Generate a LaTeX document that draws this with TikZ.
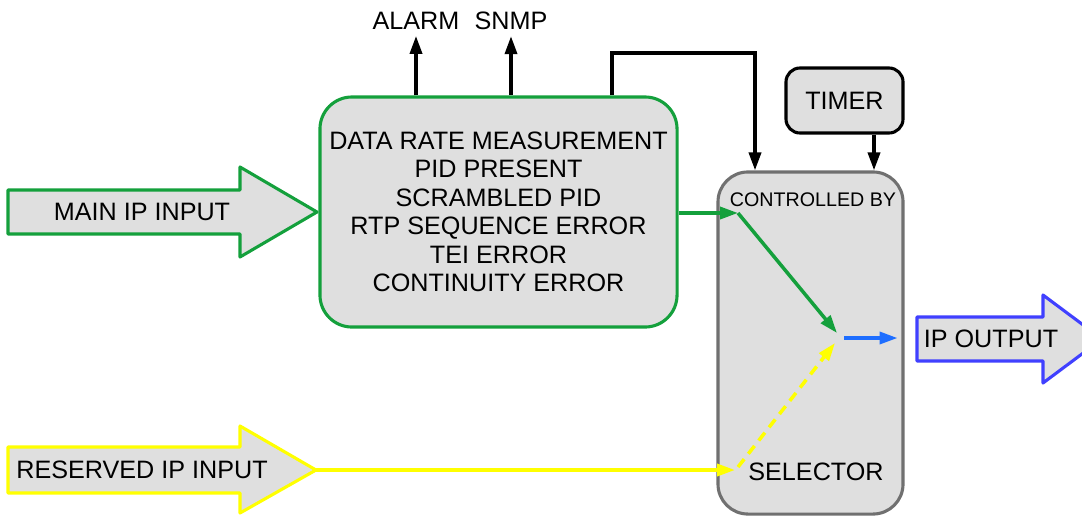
\documentclass[tikz,border=0pt]{standalone}
\usepackage{fontspec}
\setmainfont{Liberation Sans}
\usepackage{tikz}
\usetikzlibrary{arrows.meta,positioning,calc}
\definecolor{boxgreen}{RGB}{20,160,60}
\definecolor{boxgray}{RGB}{223,223,223}
\definecolor{selgray}{RGB}{112,112,112}
\definecolor{outblue}{RGB}{64,64,255}
\definecolor{lineblue}{RGB}{30,110,255}
\definecolor{inyellow}{RGB}{255,255,0}

\begin{document}
\begin{tikzpicture}[x=0.025cm,y=-0.025cm,line width=2.2pt,
  font=\fontsize{17.9}{20.25}\selectfont,
  box/.style={draw,fill=boxgray,rounded corners=0.8cm,align=center,inner sep=0pt},
  sig/.style={line width=2.5pt,-{Triangle[length=0.45cm,width=0.3cm]}},
  fat/.style={draw=#1,fill=boxgray,line join=round}]
\useasboundingbox (0,0) rectangle (1082,515);
% the two inputs and the output
\draw[fat=boxgreen] (8,190) -- (240,190) -- (240,167) -- (317,212) coordinate (mainTip) -- (240,257) -- (240,234) -- (8,234) -- cycle;
\node (mainIn) at (142,212) {MAIN IP INPUT};
\draw[fat=inyellow] (8,447) -- (240,447) -- (240,426) -- (316,470) coordinate (resTip) -- (240,513) -- (240,493) -- (8,493) -- cycle;
\node (resIn) at (142,470) {RESERVED IP INPUT};
\draw[fat=outblue] (917,317) -- (1043,317) -- (1043,295) -- (1102,339) -- (1043,383) -- (1043,361) -- (917,361) -- cycle;
\node (ipOut) at (991,339) {IP OUTPUT};
% boxes
\node[box,draw=boxgreen,minimum width=8.925cm,minimum height=5.75cm] (meas) at (498.5,212)
  {DATA RATE MEASUREMENT\\PID PRESENT\\SCRAMBLED PID\\RTP SEQUENCE ERROR\\TEI ERROR\\CONTINUITY ERROR};
\node[box,draw=selgray,rounded corners=0.75cm,minimum width=4.625cm,minimum height=8.55cm] (sel) at (810.5,343) {};
\node[box,draw=black,rounded corners=0.35cm,minimum width=2.925cm,minimum height=1.625cm] (timer) at (844.5,100.5) {TIMER};
\node (ctrl) at (813,200) {\fontsize{14}{16}\selectfont CONTROLLED BY};
\node (selName) at (816,472) {SELECTOR};
\node (alarm) at (416,21) {ALARM};
\node (snmp) at (511,21) {SNMP};
% control lines
\draw[sig] (meas.north -| alarm) -- (alarm.south);
\draw[sig] (meas.north -| snmp) -- (snmp.south);
\coordinate (loopL) at (612,53);
\coordinate (loopR) at (755,53);
\draw[sig,line join=miter] (meas.north -| loopL) -- (loopL) -- (loopR) -- (sel.north -| loopR);
\coordinate (tmr) at (874,0);
\draw[sig] (timer.south -| tmr) -- (sel.north -| tmr);
% the switch
\coordinate (swA) at (738,213);
\coordinate (swB) at (735,470);
\coordinate (mix) at (840,338);
\draw[sig,boxgreen] (meas.east |- swA) -- (swA);
\draw[sig,boxgreen] (swA) -- ([shift={(-3,-5)}]mix);
\draw[sig,inyellow] (resTip) -- (swB);
\draw[sig,inyellow,dash pattern=on 0.25cm off 0.17cm] ([shift={(3,-3)}]swB) -- ([shift={(-5,5)}]mix);
\draw[sig,lineblue] ([xshift=3]mix) -- ([xshift=-5]mix -| sel.east);
\end{tikzpicture}
\end{document}
